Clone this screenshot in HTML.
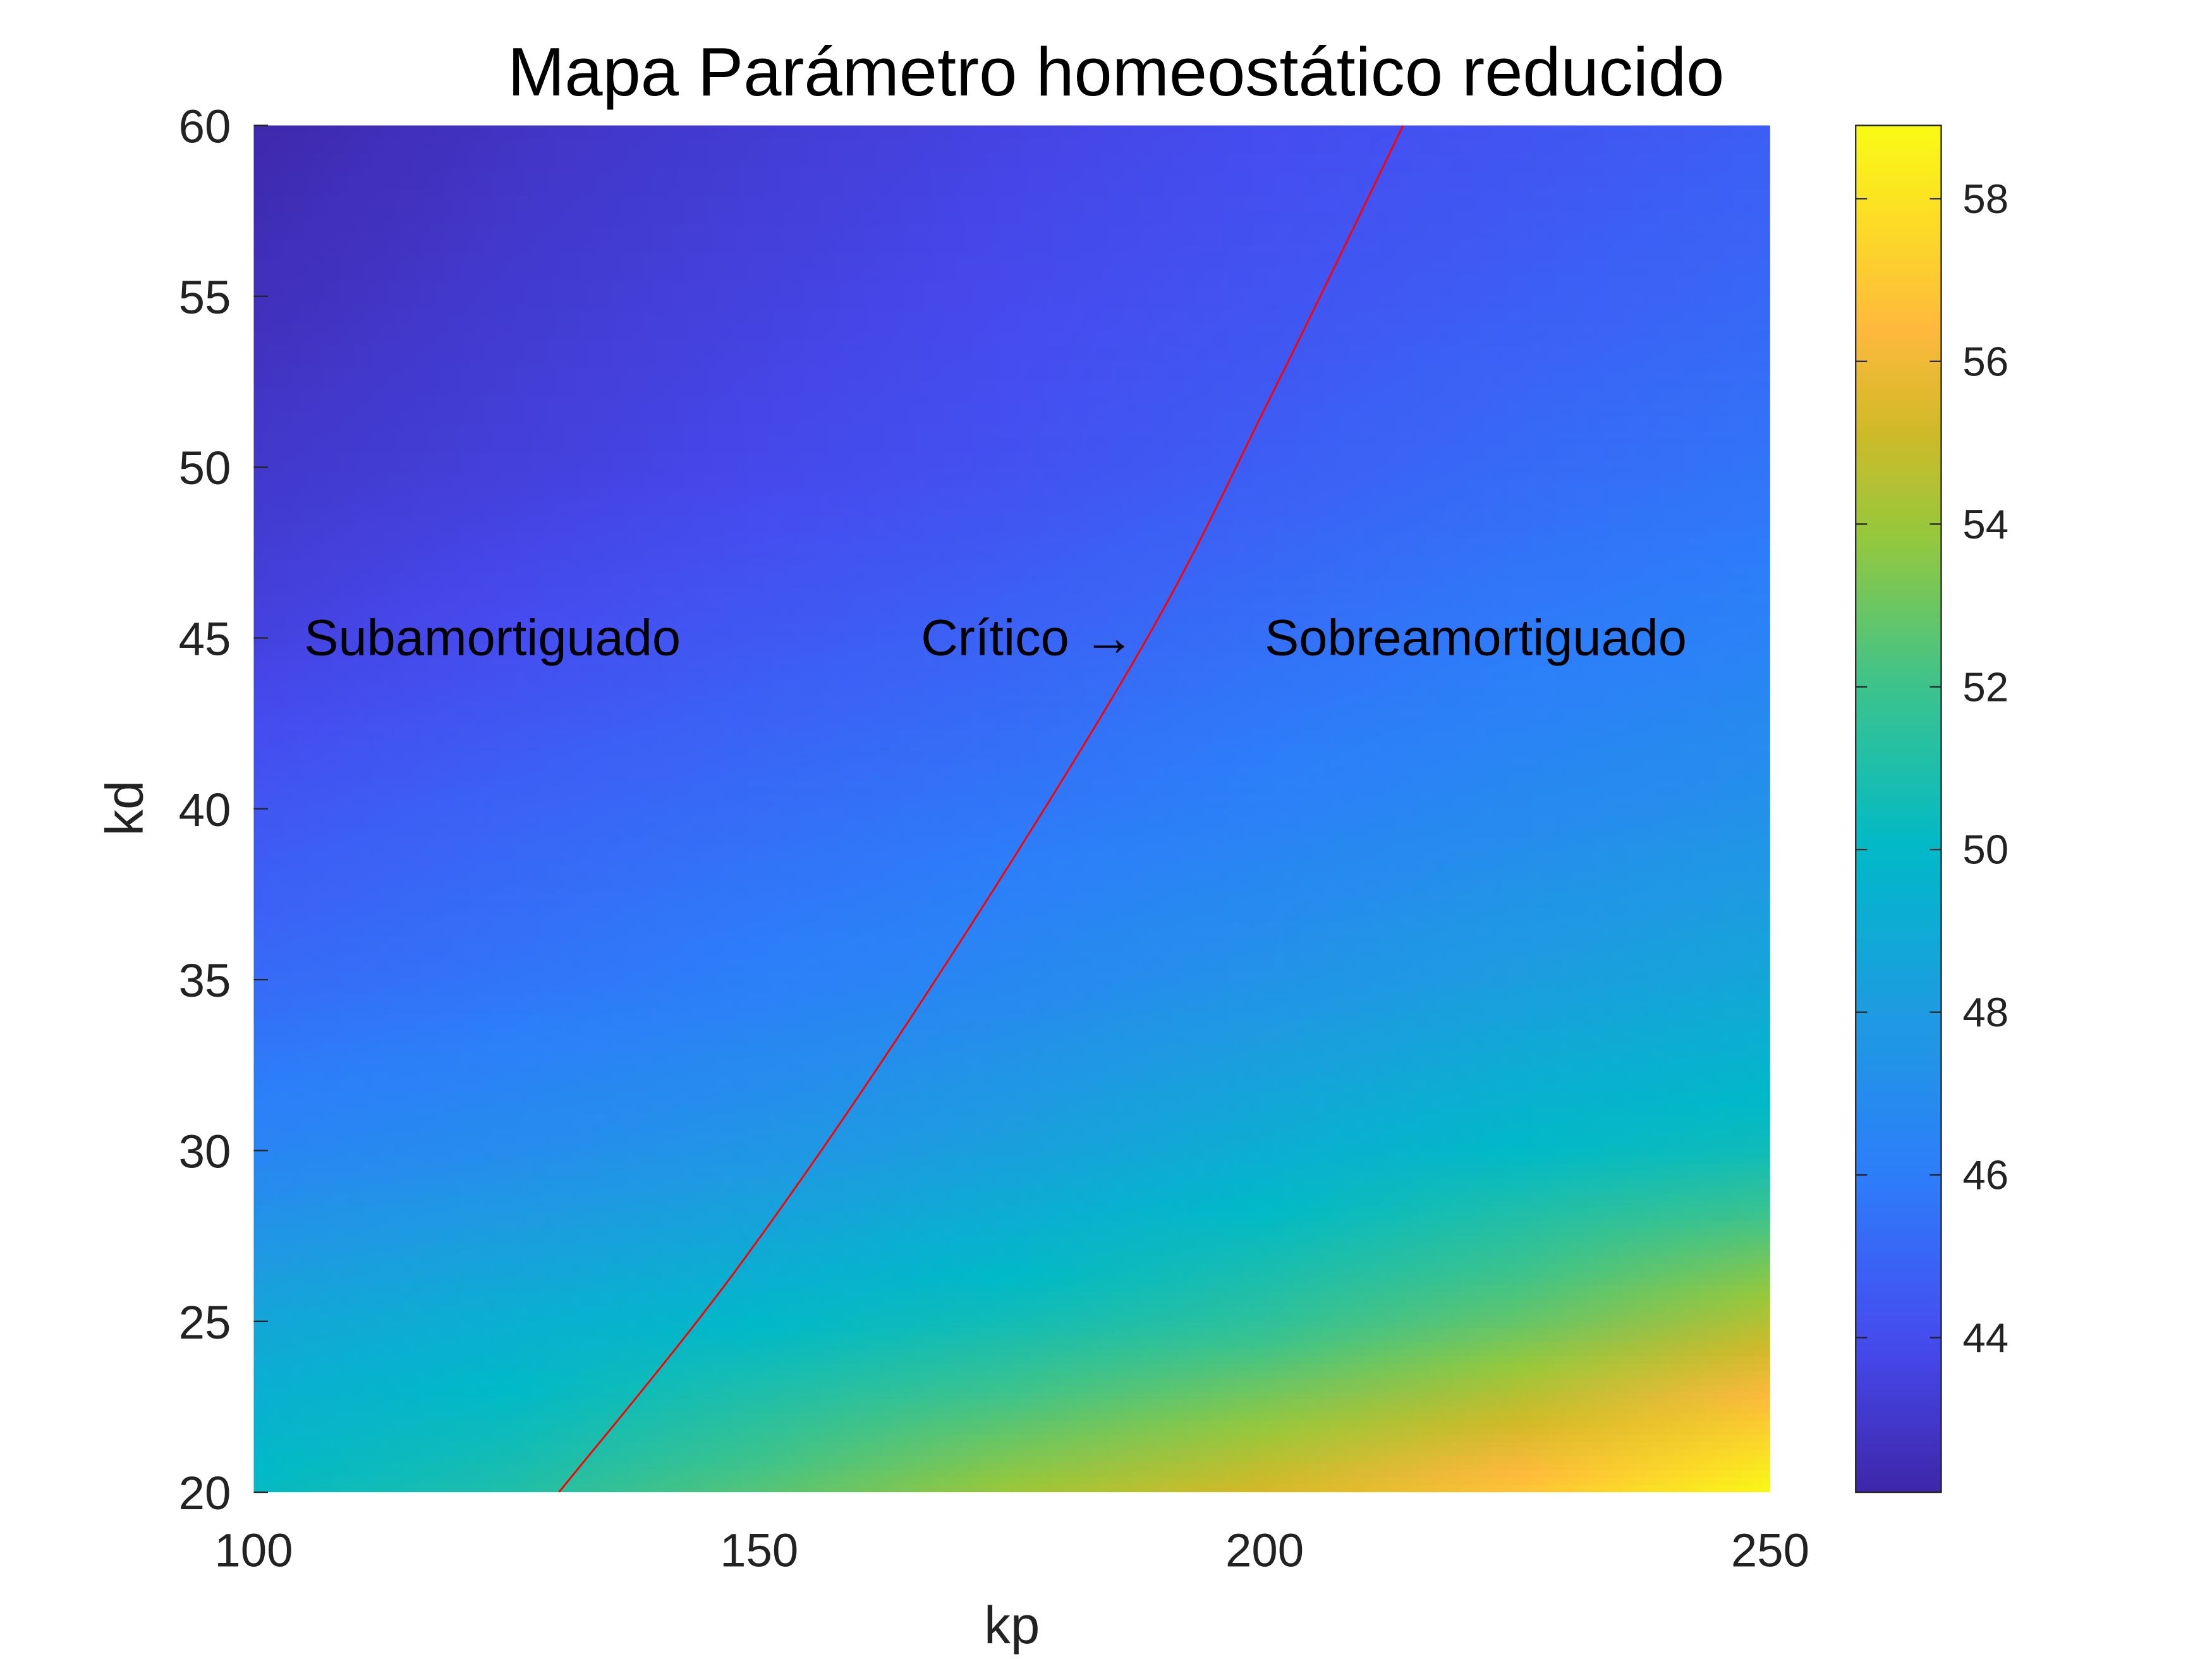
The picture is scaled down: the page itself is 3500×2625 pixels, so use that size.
<!DOCTYPE html>
<html><head><meta charset="utf-8"><style>
html,body{margin:0;padding:0;background:#fff;}
svg{display:block;font-family:"Liberation Sans",Arial,sans-serif;}
</style></head><body>
<svg id="chart" width="3500" height="2625" viewBox="0 0 1552 1164" xmlns="http://www.w3.org/2000/svg">
<defs>
<clipPath id="plotClip"><rect x="178" y="88" width="1064" height="959"/></clipPath>
<linearGradient id="cbGrad" x1="0" y1="1" x2="0" y2="0"></linearGradient>
</defs>
<rect width="1552" height="1164" fill="#fff"/>
<g id="heat" clip-path="url(#plotClip)"></g>
<g id="curveG" clip-path="url(#plotClip)"></g>
<g id="axes"></g>
<text x="783" y="67" text-anchor="middle" font-size="48" fill="#000">Mapa Parámetro homeostático reducido</text>
<text x="710" y="1153" text-anchor="middle" font-size="37" fill="#222">kp</text>
<text transform="translate(100,567) rotate(-90)" text-anchor="middle" font-size="37" fill="#222">kd</text>
</svg>
<script>
const kpVals=[100,125,150,175,200,225,250];
const kdVals=[60,55,50,45,40,35,30,25,20];
const zVals=[
[42.2,42.8,43.2,43.6,44.0,44.3,44.7],
[42.6,43.1,43.5,43.9,44.3,44.7,45.1],
[43.0,43.4,43.8,44.2,44.7,45.2,45.6],
[43.5,44.0,44.5,44.9,45.4,45.9,46.3],
[44.4,44.9,45.3,45.7,46.2,46.8,47.3],
[45.2,45.6,46.1,46.7,47.4,48.1,48.7],
[46.5,47.0,47.6,48.3,49.2,50.0,50.5],
[48.7,49.3,49.9,50.6,51.5,52.8,54.5],
[50.2,51.0,52.5,54.0,55.3,56.8,58.8]];
const curveKd=[20,26.5,34.7,44.8,52.3,60];
const curveKp=[130.2,147.7,166.8,188.0,201.0,213.7];
const xTicks=[100,150,200,250];
const yTicks=[20,25,30,35,40,45,50,55,60];
const cbTicks=[44,46,48,50,52,54,56,58];
const cMin=42.1,cMax=58.9;
const annText=["Subamortiguado","Crítico →","Sobreamortiguado"];
const annKp=[105,166,200];
const annKd=[45,45,45];

const NS="http://www.w3.org/2000/svg";
const X0=178,X1=1242,Y0=1047,Y1=88;
const xs=v=>X0+(v-100)/150*(X1-X0);
const ys=v=>Y0-(v-20)/40*(Y0-Y1);
const cbX=1302,cbW=60;
const cs=v=>Y0-(v-cMin)/(cMax-cMin)*(Y0-Y1);
const stops=[[0,62,38,168],[0.11,70,75,240],[0.23,45,125,250],[0.35,30,155,225],[0.47,0,185,200],[0.59,60,195,140],[0.70,150,200,60],[0.78,210,185,40],[0.85,254,185,60],[1,249,251,20]];
function color(v){let t=Math.max(0,Math.min(1,(v-cMin)/(cMax-cMin)));
for(let i=1;i<stops.length;i++){if(t<=stops[i][0]){const a=stops[i-1],b=stops[i],f=(t-a[0])/(b[0]-a[0]);
return `rgb(${Math.round(a[1]+f*(b[1]-a[1]))},${Math.round(a[2]+f*(b[2]-a[2]))},${Math.round(a[3]+f*(b[3]-a[3]))})`;}}return "rgb(249,251,20)";}
function el(t,attrs,parent){const e=document.createElementNS(NS,t);for(const k in attrs)e.setAttribute(k,attrs[k]);parent.appendChild(e);return e;}
const defs=document.querySelector('defs');
const heat=document.getElementById('heat');
const SUB=24;
let gid=0;
for(let i=0;i<kdVals.length-1;i++){
 const yA=ys(kdVals[i]),yB=ys(kdVals[i+1]);
 for(let s=0;s<SUB;s++){
  const f=(s+0.5)/SUB;
  const g=el('linearGradient',{id:'g'+gid,gradientUnits:'userSpaceOnUse',x1:xs(kpVals[0]),x2:xs(kpVals[kpVals.length-1]),y1:0,y2:0},defs);
  kpVals.forEach((kp,j)=>{const v=zVals[i][j]*(1-f)+zVals[i+1][j]*f;el('stop',{offset:(j/(kpVals.length-1)),'stop-color':color(v)},g);});
  const top=yA+(yB-yA)*s/SUB;
  const r=el('rect',{x:X0,y:top-0.3,width:X1-X0,height:(yB-yA)/SUB+0.6,fill:'url(#g'+gid+')'},heat);
  
  
  gid++;
 }
}
const P=curveKd.map((kd,i)=>[xs(curveKp[i]),ys(kd)]);
let d='M'+P[0][0].toFixed(1)+','+P[0][1].toFixed(1);
for(let i=0;i<P.length-1;i++){
 const p0=P[Math.max(0,i-1)],p1=P[i],p2=P[i+1],p3=P[Math.min(P.length-1,i+2)];
 const c1=[p1[0]+(p2[0]-p0[0])/6,p1[1]+(p2[1]-p0[1])/6];
 const c2=[p2[0]-(p3[0]-p1[0])/6,p2[1]-(p3[1]-p1[1])/6];
 d+=`C${c1[0].toFixed(1)},${c1[1].toFixed(1)} ${c2[0].toFixed(1)},${c2[1].toFixed(1)} ${p2[0].toFixed(1)},${p2[1].toFixed(1)}`;
}
const cp=el('path',{d:d,fill:'none',stroke:'#ff0000','stroke-width':1.3},document.getElementById('curveG'));


const axes=document.getElementById('axes');
xTicks.forEach(v=>{const t=el('text',{x:xs(v),y:1099,'text-anchor':'middle','font-size':33,fill:'#222'},axes);t.textContent=v;

});
yTicks.forEach(v=>{const t=el('text',{x:162,y:ys(v)+12,'text-anchor':'end','font-size':33,fill:'#222'},axes);t.textContent=v;


el('line',{x1:X0,x2:X0+10,y1:ys(v),y2:ys(v),stroke:'#222','stroke-width':1},axes);});
annText.forEach((s,i)=>{const t=el('text',{x:xs(annKp[i]),y:ys(annKd[i])+12,'font-size':36,fill:'#000'},axes);t.textContent=s;

});
const cg=document.getElementById('cbGrad');
for(let k=0;k<=40;k++){const v=cMin+(cMax-cMin)*k/40;el('stop',{offset:k/40,'stop-color':color(v)},cg);}
const cb=el('rect',{x:cbX,y:Y1,width:cbW,height:Y0-Y1,fill:'url(#cbGrad)',stroke:'#222','stroke-width':1},axes);


cbTicks.forEach(v=>{const y=cs(v);
el('line',{x1:cbX,x2:cbX+8,y1:y,y2:y,stroke:'#222','stroke-width':1},axes);
el('line',{x1:cbX+cbW-8,x2:cbX+cbW,y1:y,y2:y,stroke:'#222','stroke-width':1},axes);
const t=el('text',{x:cbX+cbW+15,y:y+10,'font-size':29,fill:'#222'},axes);t.textContent=v;

});
</script>
</body></html>
